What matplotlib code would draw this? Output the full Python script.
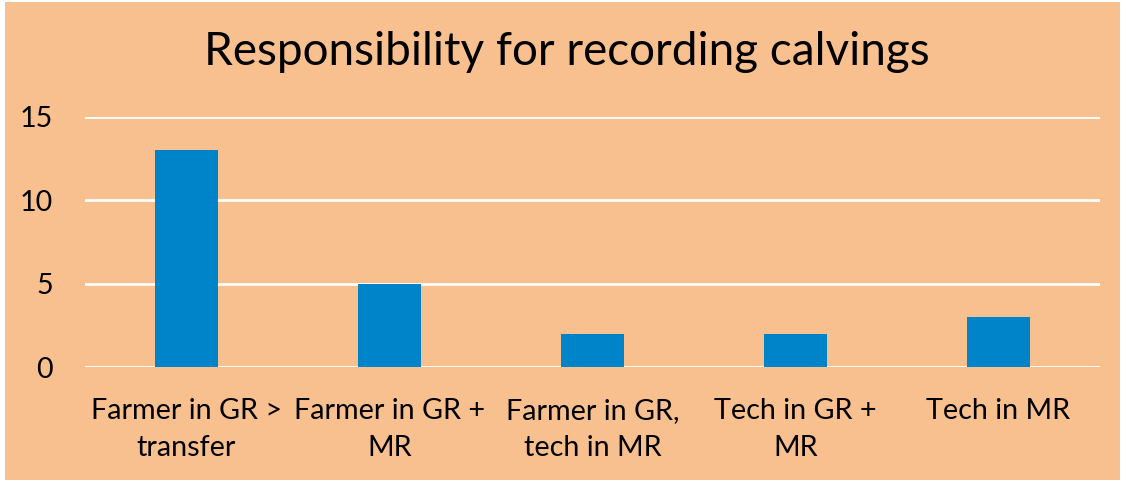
import matplotlib
matplotlib.use("Agg")
from matplotlib import pyplot as plt
from matplotlib.patches import Rectangle

categories = ["Farmer in GR >\ntransfer", "Farmer in GR +\nMR", "Farmer in GR,\ntech in MR",
              "Tech in GR +\nMR", "Tech in MR"]
values = [13, 5, 2, 2, 3]
yticks = [0, 5, 10, 15]

peach = "#F9C08F"
blue = "#0084C9"

plt.rcParams['font.family'] = ['Lato', 'DejaVu Sans']

fig = plt.figure(figsize=(11.28, 4.82), dpi=100, facecolor="white")
# chart area background with thin white margin
fig.patches.append(Rectangle((5/1128, 2/482), 1115/1128, 478/482, transform=fig.transFigure,
                             facecolor=peach, edgecolor="none", zorder=-1))

ax = fig.add_axes([85/1128, 1-367/482, 1015/1128, 250/482])
ax.set_facecolor("none")

x = range(len(values))
ax.bar(x, values, width=0.31, color=blue, zorder=3)

ax.set_xlim(-0.5, len(values) - 0.5)
ax.set_ylim(0, 15)
ax.set_yticks(yticks)
ax.set_xticks(list(x))
ax.set_xticklabels(categories, fontsize=20.7, linespacing=1.55)
ax.tick_params(axis='y', labelsize=20.7, length=0, pad=23)
ax.tick_params(axis='x', length=0, pad=22)
ax.grid(axis='y', color='white', linewidth=2, zorder=1)
ax.set_axisbelow(True)
for s in ax.spines.values():
	s.set_visible(False)

fig.text(567/1128, 1-52/482, "Responsibility for recording calvings", ha='center', va='center',
         fontsize=33)

fig.savefig("out.png", dpi=100, facecolor=fig.get_facecolor())
